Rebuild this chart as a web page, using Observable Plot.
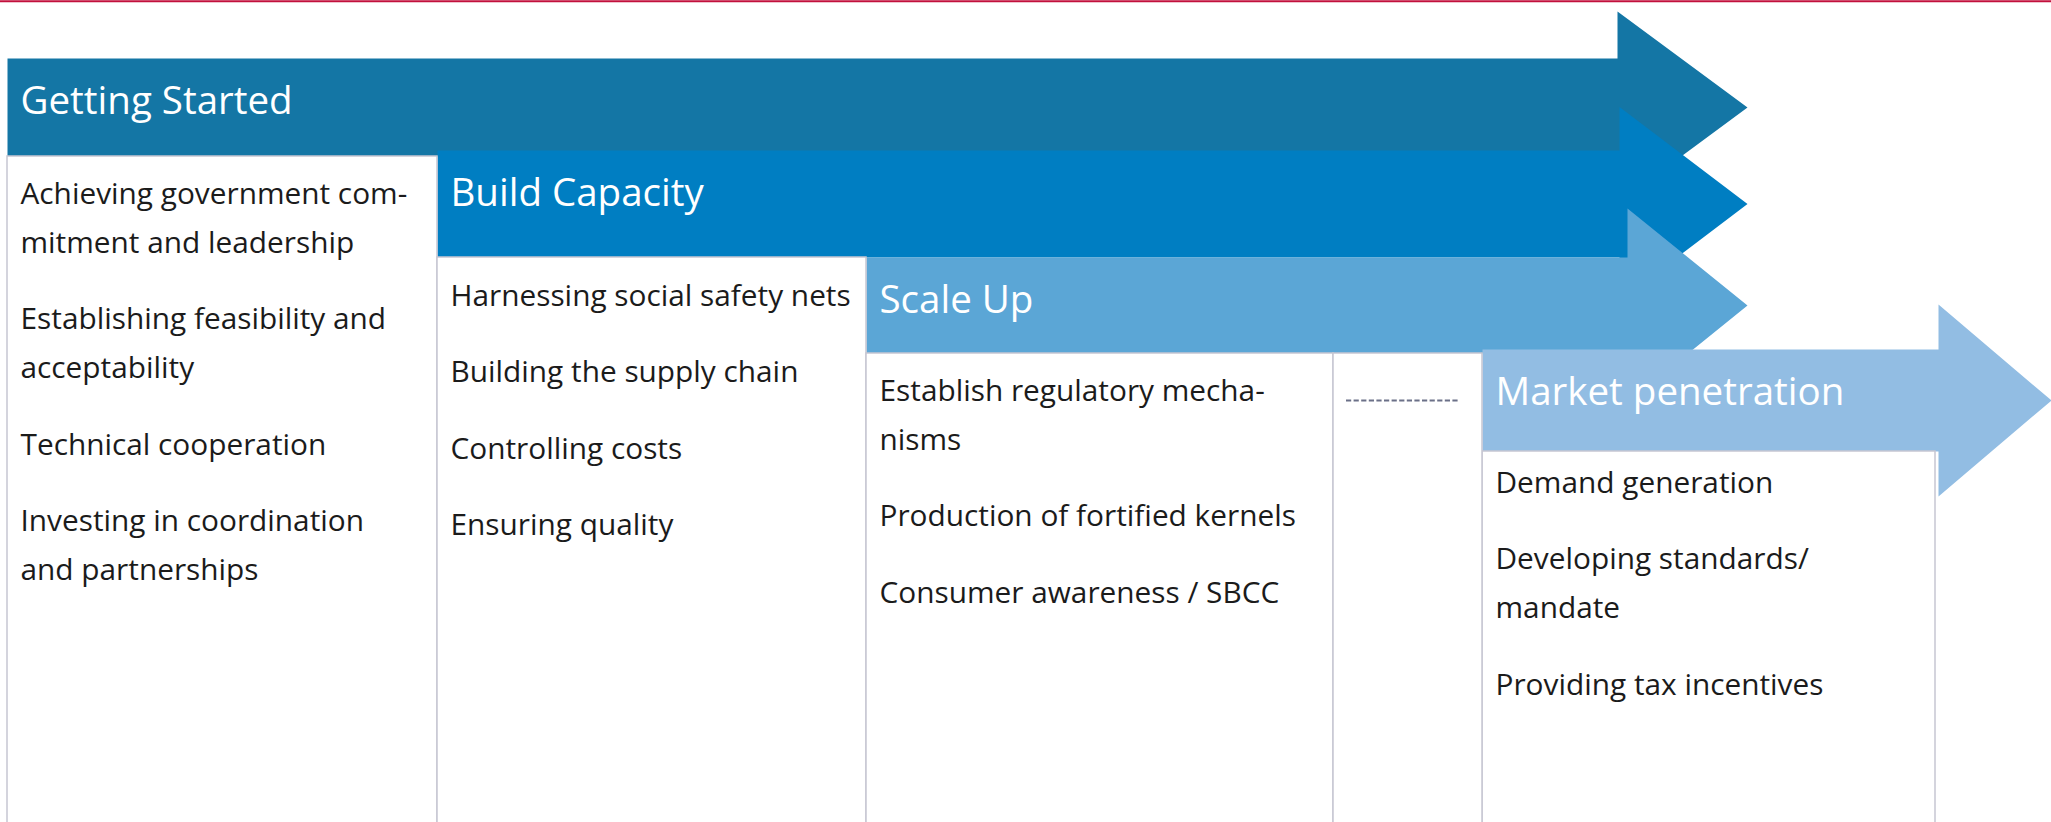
<!DOCTYPE html>
<html>
<head>
<meta charset="utf-8">
<script src="https://cdn.jsdelivr.net/npm/d3@7"></script>
<script src="https://cdn.jsdelivr.net/npm/@observablehq/plot@0.6"></script>
<style>
  html, body { margin: 0; padding: 0; background: #ffffff; }
  #chart svg { display: block; }
</style>
</head>
<body>
<div id="chart"></div>
<script>
// ---------------- data ----------------
const stages = ["Getting Started", "Build Capacity", "Scale Up", "Market penetration"];
const activitiesGettingStarted = [
  "Achieving government com-\nmitment and leadership",
  "Establishing feasibility and\nacceptability",
  "Technical cooperation",
  "Investing in coordination\nand partnerships"
];
const activitiesBuildCapacity = [
  "Harnessing social safety nets",
  "Building the supply chain",
  "Controlling costs",
  "Ensuring quality"
];
const activitiesScaleUp = [
  "Establish regulatory mecha-\nnisms",
  "Production of fortified kernels",
  "Consumer awareness / SBCC"
];
const activitiesMarket = [
  "Demand generation",
  "Developing standards/\nmandate",
  "Providing tax incentives"
];
const activities = [activitiesGettingStarted, activitiesBuildCapacity, activitiesScaleUp, activitiesMarket];

// ---------------- layout & style (pixels) ----------------
const W = 2051, H = 822;
const stageColors = ["#1476a5", "#007ec2", "#5ba6d6", "#92bde3"];
const geom = {
  left:     [7, 437, 866, 1482],
  top:      [58, 150, 257, 349],
  bottom:   [156, 257, 353, 451],
  headX:    [1617, 1619, 1627, 1938],
  headHalf: [96, 97, 97, 96],
  tipX:     [1747, 1747, 1747, 2051],
  boxRight: [437, 866, 1333, 1935],
  textPad:  [47, 48, 47, 41]
};
const gapBox = {x1: 1333, x2: 1482};
const gapDash = {x1: 1346, x2: 1460, y: 400};
const lineStep = 49, paraGap = 27.5;
const textInset = 13;
const headFont = 38.5, bodyFont = 29.8;

// arrows as polygons
const arrowPts = stages.map((s, i) => {
  const l = geom.left[i], t = geom.top[i], b = geom.bottom[i];
  const c = (t + b) / 2, hx = geom.headX[i], hh = geom.headHalf[i], tx = geom.tipX[i];
  return [
    [l, t], [hx, t], [hx, c - hh], [tx, c], [hx, c + hh], [hx, b], [l, b], [l, t]
  ].map(([x, y]) => ({stage: s, x, y}));
});

// boxes
const boxes = stages.map((s, i) => ({
  stage: s, x1: geom.left[i], x2: geom.boxRight[i], y1: geom.bottom[i], y2: H + 20
}));
boxes.push({stage: "gap", x1: gapBox.x1, x2: gapBox.x2, y1: geom.bottom[2], y2: H + 20});

// header labels
const headers = stages.map((s, i) => ({
  text: s, x: geom.left[i] + textInset, y: geom.top[i] + 55
}));

// activity lines
const lines = [];
activities.forEach((items, c) => {
  let y = geom.bottom[c] + geom.textPad[c];
  items.forEach(item => {
    const parts = item.split("\n");
    parts.forEach((p, k) => lines.push({text: p, x: geom.left[c] + textInset, y: y + k * lineStep}));
    y += parts.length * lineStep + paraGap;
  });
});

const marks = [
  Plot.ruleY([0.75], {stroke: "#c2103c", strokeWidth: 1.8})
];
arrowPts.forEach((pts, i) => {
  marks.push(Plot.line(pts, {x: "x", y: "y", fill: stageColors[i], stroke: "none", curve: "linear"}));
});
marks.push(Plot.rect(boxes, {x1: "x1", x2: "x2", y1: "y1", y2: "y2", fill: "white", stroke: "#c6c6d2", strokeWidth: 1.5}));
marks.push(Plot.ruleY([gapDash], {x1: "x1", x2: "x2", y: "y", stroke: "#6b7088", strokeWidth: 1.8, strokeDasharray: "5.2,2.4"}));
marks.push(Plot.text(headers, {x: "x", y: "y", text: "text", fill: "white", fontSize: headFont, textAnchor: "start", lineAnchor: "bottom"}));
marks.push(Plot.text(lines, {x: "x", y: "y", text: "text", fill: "#1b1b1b", fontSize: bodyFont, textAnchor: "start", lineAnchor: "bottom"}));

const chart = Plot.plot({
  width: W,
  height: H,
  margin: 0,
  x: {domain: [0, W], range: [0, W], axis: null},
  y: {domain: [0, H], range: [0, H], axis: null},
  style: {fontFamily: "'Open Sans', Lato, sans-serif", background: "#ffffff", overflow: "hidden"},
  marks
});
document.getElementById("chart").appendChild(chart);
</script>
</body>
</html>
